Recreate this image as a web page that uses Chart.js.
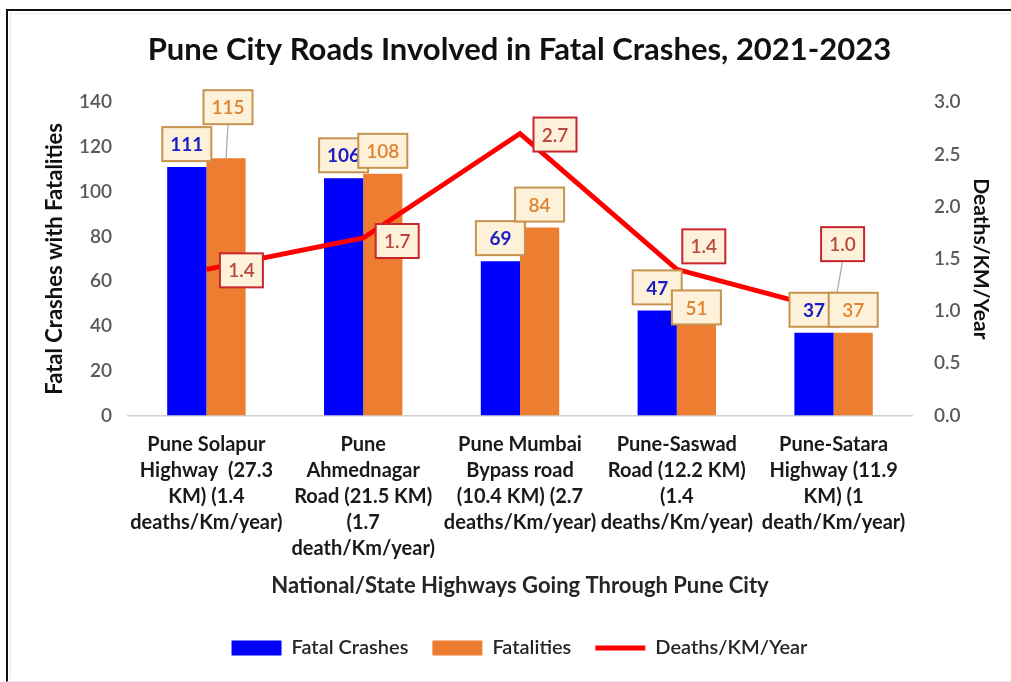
<!DOCTYPE html>
<html>
<head>
<meta charset="utf-8">
<script src="https://cdn.jsdelivr.net/npm/chart.js@4"></script>
<style>
    html, body { margin: 0; padding: 0; background: #fff; overflow: hidden; }
    #wrap {
        position: absolute; left: 0; top: 0; width: 1011px; height: 682px; overflow: hidden;
    }
    #frame {
        position: absolute; left: 6px; top: 9px; width: 1010px; height: 670px;
        border-left: 2px solid #111; border-top: 2px solid #111;
        border-bottom: 1px solid #e4e4e4;
    }
    #inner {
        position: absolute; left: 10px; top: 13px; width: 1010px; height: 664px;
        border-left: 1px solid #e8e8e8; border-top: 1px solid #ececec;
    }
    canvas { position: absolute; left: 0; top: 0; }
</style>
</head>
<body>
<div id="wrap">
    <div id="frame"></div>
    <div id="inner"></div>
    <canvas id="myChart" width="1011" height="682"></canvas>
</div>
<script>
var categories = [
    ["Pune Solapur", "Highway  (27.3", "KM) (1.4", "deaths/Km/year)"],
    ["Pune", "Ahmednagar", "Road (21.5 KM)", "(1.7", "death/Km/year)"],
    ["Pune Mumbai", "Bypass road", "(10.4 KM) (2.7", "deaths/Km/year)"],
    ["Pune-Saswad", "Road (12.2 KM)", "(1.4", "deaths/Km/year)"],
    ["Pune-Satara", "Highway (11.9", "KM) (1", "death/Km/year)"]
];
var fatalCrashes = [111, 106, 69, 47, 37];
var fatalities = [115, 108, 84, 51, 37];
var deathsPerKm = [1.4, 1.7, 2.7, 1.4, 1.0];

var leftTicks = [0, 20, 40, 60, 80, 100, 120, 140];
var rightTicks = [0, 0.5, 1.0, 1.5, 2.0, 2.5, 3.0];

var FONT = "Lato, 'Open Sans', sans-serif";

// draws the boxed value labels (Excel style callouts)
var boxLabels = {
    id: 'boxLabels',
    afterDatasetsDraw: function (chart) {
        var ctx = chart.ctx;
        var order = [2, 0, 1];
        for (var o = 0; o < order.length; o++) {
            var di = order[o];
            var ds = chart.data.datasets[di];
            var cfg = ds.boxLabel;
            if (!cfg) continue;
            var meta = chart.getDatasetMeta(di);
            for (var i = 0; i < meta.data.length; i++) {
                var el = meta.data[i];
                var off = cfg.offsets ? cfg.offsets[i] : [0, 0];
                var txt = cfg.fmt ? cfg.fmt(ds.data[i]) : String(ds.data[i]);
                var w = cfg.w, h = cfg.h;
                var cx, cy;
                if (cfg.type === 'bar') {
                    cx = el.x;
                    cy = el.y - 6 - h / 2;
                } else {
                    cx = el.x;
                    cy = el.y;
                }
                var lx = cx, ly = cy;
                cx += off[0];
                cy += off[1];
                if (cfg.leader && cfg.leader[i]) {
                    ctx.save();
                    ctx.strokeStyle = '#a6a6a6';
                    ctx.lineWidth = 1.2;
                    ctx.beginPath();
                    ctx.moveTo(cx, cy + h / 2);
                    ctx.lineTo(lx, cfg.type === 'bar' ? el.y : ly);
                    ctx.stroke();
                    ctx.restore();
                }
                ctx.save();
                ctx.fillStyle = '#fdf1d9';
                ctx.fillRect(cx - w / 2, cy - h / 2, w, h);
                ctx.strokeStyle = cfg.border;
                ctx.lineWidth = 2;
                ctx.strokeRect(cx - w / 2, cy - h / 2, w, h);
                ctx.fillStyle = cfg.color;
                ctx.font = cfg.weight + ' 19px ' + FONT;
                ctx.textAlign = 'center';
                ctx.textBaseline = 'middle';
                ctx.fillText(txt, cx, cy + 1);
                ctx.restore();
            }
        }
    }
};

var barCharData = {
    labels: categories,
    datasets: [
        {
            type: 'bar',
            label: 'Fatal Crashes',
            data: fatalCrashes,
            backgroundColor: '#0000ff',
            yAxisID: 'y',
            order: 2,
            pointStyle: 'rect',
            boxLabel: { type: 'bar', w: 49, h: 34, border: '#c8934f', color: '#1c1cc4', weight: 'bold' }
        },
        {
            type: 'bar',
            label: 'Fatalities',
            data: fatalities,
            backgroundColor: '#ed7d31',
            yAxisID: 'y',
            order: 2,
            pointStyle: 'rect',
            boxLabel: {
                type: 'bar', w: 49, h: 34, border: '#c8934f', color: '#e0822f', weight: '600',
                offsets: [[2, -28], [0, 0], [0, 0], [0, 29], [0, 0]],
                leader: [true, false, false, false, false]
            }
        },
        {
            type: 'line',
            label: 'Deaths/KM/Year',
            data: deathsPerKm,
            borderColor: '#ff0000',
            backgroundColor: '#ff0000',
            borderWidth: 5,
            pointRadius: 0,
            tension: 0,
            yAxisID: 'y1',
            order: 1,
            pointStyle: 'line',
            boxLabel: {
                type: 'line', w: 43, h: 34, border: '#c8262e', color: '#b8473c', weight: '600',
                fmt: function (v) { return v.toFixed(1); },
                offsets: [[35, 1], [34, 3], [35, 1], [27, -23], [9, -67]],
                leader: [false, false, false, false, true]
            }
        }
    ]
};

window.onload = function () {
    var ctx = document.getElementById('myChart');
    window.myBar = new Chart(ctx, {
        type: 'bar',
        data: barCharData,
        plugins: [boxLabels],
        options: {
            responsive: false,
            animation: false,
            layout: { padding: { left: 42, right: 14, top: 14, bottom: 14 } },
            datasets: {
                bar: { categoryPercentage: 0.5, barPercentage: 1.0 }
            },
            plugins: {
                tooltip: { enabled: false },
                title: {
                    display: true,
                    text: 'Pune City Roads Involved in Fatal Crashes, 2021-2023',
                    color: '#111',
                    font: { family: FONT, size: 31, weight: 'bold' },
                    padding: { top: 17, bottom: 34 }
                },
                legend: {
                    position: 'bottom',
                    labels: {
                        usePointStyle: true,
                        pointStyleWidth: 50,
                        boxHeight: 15,
                        color: '#262626',
                        padding: 24,
                        font: { family: FONT, size: 20, weight: '600' },
                        sort: function (a, b) { return a.datasetIndex - b.datasetIndex; }
                    }
                }
            },
            scales: {
                x: {
                    grid: { display: false, drawTicks: false },
                    border: { display: true, color: '#d0d0d0', width: 1.5 },
                    ticks: {
                        color: '#1a1a1a',
                        padding: 16,
                        maxRotation: 0,
                        autoSkip: false,
                        font: { family: FONT, size: 20, weight: 'bold', lineHeight: 1.3 }
                    },
                    title: {
                        display: true,
                        text: 'National/State Highways Going Through Pune City',
                        color: '#262626',
                        font: { family: FONT, size: 22, weight: 'bold' },
                        padding: { top: -5, bottom: 15 }
                    }
                },
                y: {
                    position: 'left',
                    min: 0,
                    max: 140,
                    afterBuildTicks: function (axis) {
                        axis.ticks = leftTicks.map(function (v) { return { value: v }; });
                    },
                    grid: { display: false, drawTicks: false },
                    border: { display: false },
                    ticks: {
                        color: '#595959',
                        padding: 16,
                        font: { family: FONT, size: 19, weight: '600' }
                    },
                    title: {
                        display: true,
                        text: 'Fatal Crashes with Fatalities',
                        color: '#111',
                        font: { family: FONT, size: 22, weight: 'bold' },
                        padding: { top: 0, bottom: 10 }
                    },
                    afterFit: function (axis) { axis.width = 86; }
                },
                y1: {
                    position: 'right',
                    min: 0,
                    max: 3,
                    afterBuildTicks: function (axis) {
                        axis.ticks = rightTicks.map(function (v) { return { value: v }; });
                    },
                    grid: { display: false, drawTicks: false },
                    border: { display: false },
                    ticks: {
                        color: '#595959',
                        padding: 22,
                        font: { family: FONT, size: 19, weight: '600' },
                        callback: function (v) { return Number(v).toFixed(1); }
                    },
                    title: {
                        display: true,
                        text: 'Deaths/KM/Year',
                        color: '#111',
                        font: { family: FONT, size: 21, weight: 'bold' },
                        padding: { top: 4, bottom: 0 }
                    },
                    afterFit: function (axis) { axis.width = 85; }
                }
            }
        }
    });
};
</script>
</body>
</html>
